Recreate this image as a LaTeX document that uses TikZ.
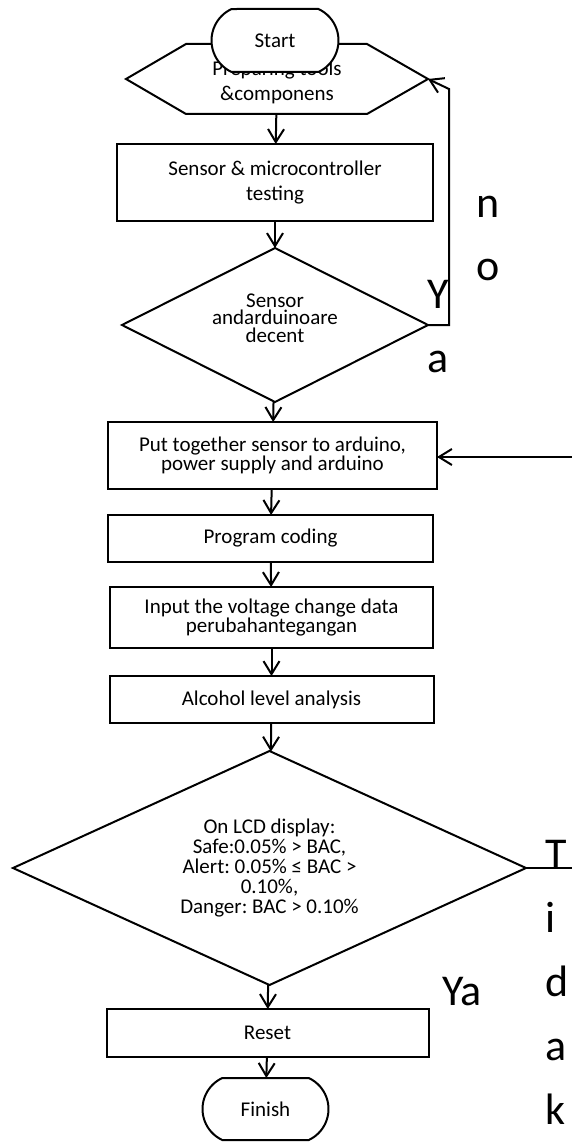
\documentclass[tikz,border=0pt]{standalone}
\usepackage{fontspec}
\setmainfont{Carlito}
\frenchspacing
\usetikzlibrary{positioning,arrows.meta,shapes.misc,shapes.geometric}

\tikzset{
  proc/.style={draw, line width=2pt, rectangle, inner sep=0pt, outer sep=0pt, align=center,
    font=\fontsize{21}{25}\selectfont},
  term/.style={draw, line width=2pt, rounded rectangle, rounded rectangle arc length=130,
    fill=white, inner sep=0pt, outer sep=0pt, font=\fontsize{21}{25}\selectfont},
  prepbox/.style={rectangle, inner sep=0pt, outer sep=0pt, align=center, minimum width=302pt,
    minimum height=70pt, font=\fontsize{21}{25}\selectfont},
  decision/.style={draw, line width=2pt, diamond, inner sep=0pt, outer sep=0pt, align=center},
  flow/.style={line width=2pt, -{Straight Barb[length=13pt,width=16pt]}},
  big/.style={anchor=base west, inner sep=0pt, align=left},
}

\begin{document}
\begin{tikzpicture}[x=1pt, y=1pt]
    \useasboundingbox (0,0) rectangle (572,-1142);

    \node[prepbox] (prep) at (277,-79) {\rule{0pt}{22pt}Preparing tools\\\&componens};
    \draw[line width=2pt] (prep.west) -- ([xshift=60pt]prep.north west)
      -- ([xshift=-61pt]prep.north east) -- (prep.east)
      -- ([xshift=-61pt]prep.south east) -- ([xshift=60pt]prep.south west) -- cycle;
    \node[term, minimum width=127pt, minimum height=63pt] (start) at (275,-40.5) {Start};

    \node[proc, minimum width=316pt, minimum height=77pt, below=30pt of prep, xshift=-2pt] (test)
      {Sensor \& microcontroller\\testing};
    \node[decision, aspect=2, minimum width=306pt, minimum height=154pt, below=27pt of test,
      font=\fontsize{21}{17.5}\selectfont] (check)
      {Sensor\\andarduinoare\\decent\rule[-14pt]{0pt}{14pt}};
    \node[proc, minimum width=329pt, minimum height=67pt, below=20pt of check, xshift=-2.5pt,
      font=\fontsize{21}{18}\selectfont] (assemble)
      {Put together sensor to arduino,\\power supply and arduino};
    \node[proc, minimum width=325pt, minimum height=47pt, below=26pt of assemble, xshift=-2pt] (coding)
      {Program coding};
    \node[proc, minimum width=323pt, minimum height=61pt, below=25pt of coding, xshift=1pt,
      font=\fontsize{21}{19}\selectfont] (input)
      {Input the voltage change data\\perubahantegangan};
    \node[proc, minimum width=324pt, minimum height=47pt, below=28pt of input] (analysis)
      {Alcohol level analysis};
    \node[decision, aspect=2.2, minimum width=513pt, minimum height=234pt, below=28pt of analysis,
      xshift=-2pt, font=\fontsize{21}{20}\selectfont] (display)
      {On LCD display:\\Safe:0.05\% > BAC,\\Alert: 0.05\% ≤ BAC >\\0.10\%,\\Danger: BAC > 0.10\%};
    \node[proc, minimum width=322pt, minimum height=48pt, below=24pt of display, xshift=-2pt] (reset)
      {Reset};
    \node[term, minimum width=126pt, minimum height=62pt, below=21pt of reset, xshift=-2pt] (finish)
      {Finish};

    % free ends
    \coordinate (noup) at (449,-89);
    \coordinate (backin) at (572,-457);
    \coordinate (noout) at (572,-868);

    \draw[flow] (prep) -- (test);
    \draw[flow] (test) -- (check);
    \draw[flow] (check) -- (assemble);
    \draw[flow] (assemble) -- (coding);
    \draw[flow] (coding) -- (input);
    \draw[flow] (input) -- (analysis);
    \draw[flow] (analysis) -- (display);
    \draw[flow] (display) -- (reset);
    \draw[flow] (reset) -- (finish);
    \draw[flow] (check.east) -| (noup) -- (prep.east);
    \draw[flow] (backin) -- (assemble.east |- backin);
    \draw[line width=2pt] (display.east) -- (noout);

    % labels (base = last line)
    \node[big, font=\fontsize{44}{63}\selectfont] (nolbl) at (476,-280) {n\\o};
    \node[big, font=\fontsize{44}{64}\selectfont] (yalbl) at (427,-372) {Y\\a};
    \node[big, font=\fontsize{44}{64}\selectfont] (yalbl2) at (442,-1005) {Ya};
    \node[big, font=\fontsize{44}{64}\selectfont] (tidaklbl) at (545,-1124) {T\\i\\d\\a\\k};
\end{tikzpicture}
\end{document}
